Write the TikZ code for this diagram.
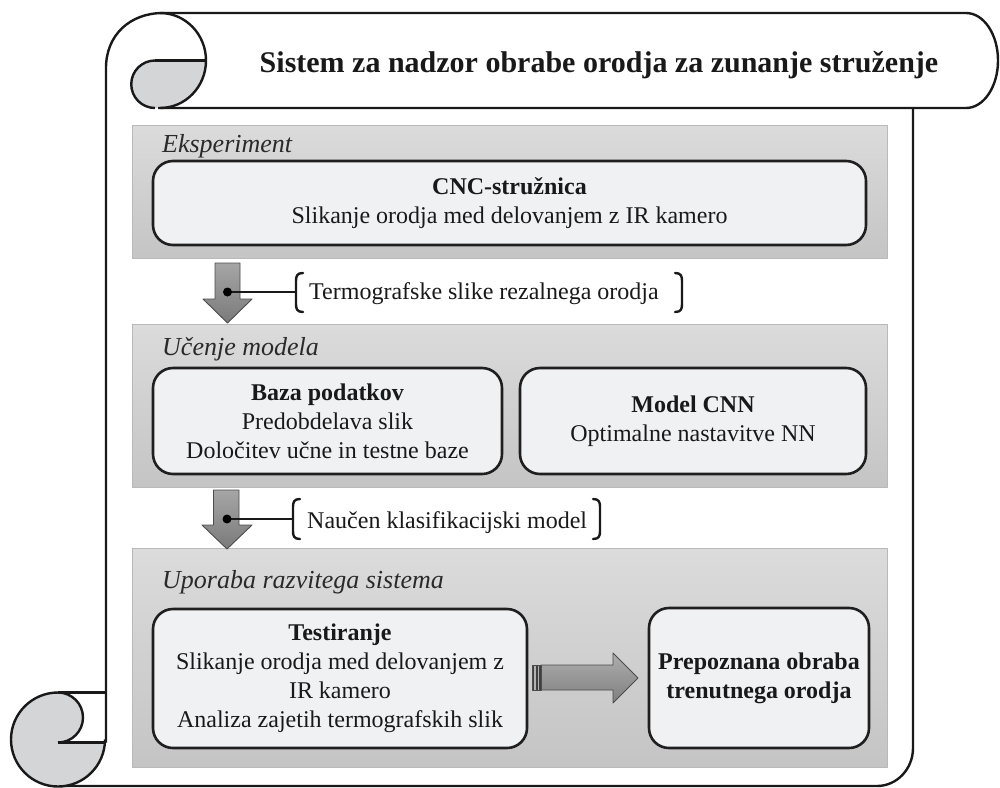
\documentclass[tikz,border=0pt]{standalone}
\usepackage{fontspec}
\setmainfont{Liberation Serif}
\definecolor{boxfill}{HTML}{F0F1F3}
\definecolor{curlgray}{HTML}{D4D5D7}
\definecolor{titlegray}{HTML}{2A2A2A}
\newcommand{\bodyfnt}{\fontsize{24}{29}\selectfont}
\begin{document}
\begin{tikzpicture}[x=1pt,y=-1pt,line join=round,
  scrollline/.style={line width=2.4pt,draw=black!90},
  panel/.style={draw=gray!55,line width=0.8pt,top color=black!14,bottom color=black!23,minimum width=755pt,inner sep=0pt},
  wbox/.style={draw=black!88,line width=2.6pt,fill=boxfill,rounded corners=20pt,align=center,inner sep=0pt,font=\bodyfnt,text=black!90},
  ptitle/.style={font=\fontsize{26}{30}\selectfont\itshape,text=titlegray,anchor=base west,inner sep=0pt},
  blabel/.style={font=\fontsize{24}{28}\selectfont,text=black!90,anchor=base west,inner sep=0pt},
  downarrow/.style={draw=black!70,line width=0.9pt,top color=black!35,bottom color=black!52},
  bracketline/.style={line width=2.4pt,draw=black!90,line cap=round},
  connline/.style={line width=2pt,draw=black!90}
]
\useasboundingbox (0,0) rectangle (1000,787);

% ---------- scroll outline ----------
% top-left curl (gray)
\fill[curlgray] (155,60.5) -- (206,60.5) arc[start angle=0,end angle=90,x radius=46,y radius=47.5] -- (155,108) arc[start angle=90,end angle=270,radius=23.75] -- cycle;
\draw[scrollline] (155,60.5) -- (206,60.5);
\draw[scrollline] (155,108) arc[start angle=90,end angle=270,radius=23.75];
\draw[scrollline] (160,13) arc[start angle=270,end angle=450,x radius=46,y radius=47.5];
% top band
\draw[scrollline] (106,742.5) -- (106,68) .. controls (106,35) and (130,13) .. (163,13) -- (966,13)
   arc[start angle=270,end angle=450,x radius=32,y radius=47.5] -- (158,108);
% right / bottom edge
\draw[scrollline] (913,108) -- (913,748) arc[start angle=0,end angle=90,x radius=36,y radius=38] -- (58,786);
% bottom-left curl
\fill[curlgray] (58,692.5) arc[start angle=270,end angle=0,radius=47] -- (106,742.5) -- (58,742.5)
   arc[start angle=90,end angle=-90,radius=25] -- cycle;
\draw[scrollline] (58,692.5) arc[start angle=270,end angle=0,radius=47];
\draw[scrollline] (58,692.5) -- (106,692.5);
\draw[scrollline] (58,742.5) -- (106,742.5);
\draw[scrollline] (58,742.5) arc[start angle=90,end angle=-90,radius=25];

% ---------- title ----------
\node[font=\fontsize{30}{34}\selectfont\bfseries,text=black!90,anchor=base,inner sep=0pt] (title) at (599,72) {Sistem za nadzor obrabe orodja za zunanje struženje};

% ---------- panels ----------
\node[panel,minimum height=133pt] (p1) at (509.5,191.5) {};
\node[panel,minimum height=163pt] (p2) at (509.5,405.5) {};
\node[panel,minimum height=219pt] (p3) at (509.5,657.5) {};

\node[ptitle] (t1) at (162,152) {Eksperiment};
\node[ptitle] (t2) at (162,355) {Učenje modela};
\node[ptitle] (t3) at (162,588) {Uporaba razvitega sistema};

% ---------- boxes ----------
\node[wbox,minimum width=713pt,minimum height=84pt] (cnc) at (509.5,203) {\textbf{CNC-stružnica}\\Slikanje orodja med delovanjem z IR kamero};
\node[wbox,minimum width=349pt,minimum height=106pt] (baza) at (327.5,421) {\textbf{Baza podatkov}\\Predobdelava slik\\Določitev učne in testne baze};
\node[wbox,minimum width=346pt,minimum height=106pt] (cnn) at (693,421) {\textbf{Model CNN}\\Optimalne nastavitve NN};
\node[wbox,minimum width=374pt,minimum height=139pt] (test) at (340,678.5) {\textbf{Testiranje}\\Slikanje orodja med delovanjem z\\IR kamero\\Analiza zajetih termografskih slik};
\node[wbox,minimum width=220pt,minimum height=140pt,font=\bodyfnt\bfseries] (prep) at (759,678) {Prepoznana obraba\\trenutnega orodja};

% ---------- down arrow 1 ----------
\draw[downarrow] (215,263) -- (240,263) -- (240,299) -- (252,299) -- (227.5,323) -- (203,299) -- (215,299) -- cycle;
\coordinate (d1) at (227.5,292);
\draw[bracketline] (303,273) .. controls (297,273) and (296,276) .. (296,281) -- (296,304) .. controls (296,309) and (297,312) .. (303,312);
\coordinate (b1) at (296,292);
\draw[connline] (d1) -- (b1);
\fill[black] (d1) circle[radius=4.5];
\node[blabel] (l1) at (309,299) {Termografske slike rezalnega orodja};
\draw[bracketline] (675,273) .. controls (681,273) and (682,276) .. (682,281) -- (682,304) .. controls (682,309) and (681,312) .. (675,312);

% ---------- down arrow 2 ----------
\draw[downarrow] (213.5,490) -- (239,490) -- (239,525) -- (252,525) -- (227,549) -- (202,525) -- (213.5,525) -- cycle;
\coordinate (d2) at (227,519);
\draw[bracketline] (300,499) .. controls (294,499) and (293,502) .. (293,507) -- (293,531) .. controls (293,536) and (294,539) .. (300,539);
\coordinate (b2) at (293,519);
\draw[connline] (d2) -- (b2);
\fill[black] (d2) circle[radius=4.5];
\node[blabel] (l2) at (307,528) {Naučen klasifikacijski model};
\draw[bracketline] (593,499) .. controls (599,499) and (600,502) .. (600,507) -- (600,531) .. controls (600,536) and (599,539) .. (593,539);

% ---------- right arrow ----------
\draw[draw=black!70,line width=0.9pt,top color=black!32,bottom color=black!50] (541,665) -- (613,665) -- (613,653) -- (638,678) -- (613,703) -- (613,690) -- (541,690) -- cycle;
\fill[black!30] (532,665) rectangle (541,690);
\fill[black!75] (532,665) rectangle (534,690);
\fill[black!75] (536,665) rectangle (537.5,690);
\fill[black!75] (539,665) rectangle (541,690);
\draw[black!70,line width=0.9pt] (532,665) rectangle (541,690);
\end{tikzpicture}
\end{document}
